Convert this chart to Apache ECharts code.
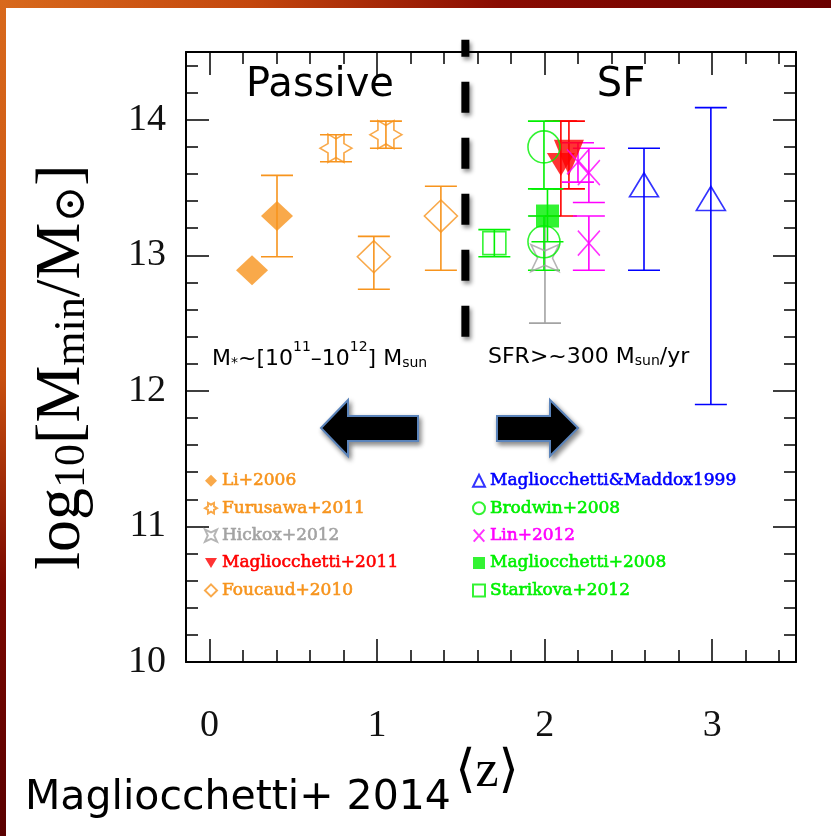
<!DOCTYPE html>
<html>
<head>
<meta charset="utf-8">
<script src="https://cdn.jsdelivr.net/npm/echarts@6/dist/echarts.min.js"></script>
<style>
html,body{margin:0;padding:0;background:#fff}
#chart{width:831px;height:836px}
</style>
</head>
<body>
<div id="chart"></div>
<script>
// ---- minimum halo mass vs. mean redshift, per sample (value, lower and upper bound) ----
const li2006_z  = [0.254, 0.403];
const li2006_m  = [12.89, 13.29];
const li2006_lo = [null, 12.99];
const li2006_hi = [null, 13.59];

const furusawa2011_z  = [0.755, 1.053];
const furusawa2011_m  = [13.79, 13.89];
const furusawa2011_lo = [13.69, 13.79];
const furusawa2011_hi = [13.89, 13.99];

const hickox2012_z  = [2.002];
const hickox2012_m  = [12.98];
const hickox2012_lo = [12.50];
const hickox2012_hi = [13.29];

const mag2011_z  = [2.097, 2.145];
const mag2011_m  = [13.67, 13.72];
const mag2011_lo = [13.29, 13.49];
const mag2011_hi = [13.99, 13.99];

const foucaud2010_z  = [0.981, 1.381];
const foucaud2010_m  = [12.99, 13.29];
const foucaud2010_lo = [12.75, 12.89];
const foucaud2010_hi = [13.14, 13.51];

const maddox1999_z  = [2.593, 2.992];
const maddox1999_m  = [13.52, 13.42];
const maddox1999_lo = [12.89, 11.90];
const maddox1999_hi = [13.79, 14.09];

const brodwin2008_z  = [1.996, 1.996];
const brodwin2008_m  = [13.80, 13.10];
const brodwin2008_lo = [13.49, 12.89];
const brodwin2008_hi = [13.99, 13.29];

const lin2012_z  = [2.199, 2.264, 2.264];
const lin2012_m  = [13.69, 13.61, 13.09];
const lin2012_lo = [13.54, 13.39, 12.89];
const lin2012_hi = [13.83, 13.79, 13.29];

const mag2008_z  = [2.017];
const mag2008_m  = [13.29];
const mag2008_lo = [13.10];
const mag2008_hi = [13.49];

const starikova2012_z  = [1.700];
const starikova2012_m  = [13.09];
const starikova2012_lo = [12.99];
const starikova2012_hi = [13.19];

// passive / star-forming divide
const divider_z = [1.527];
const divider_lo = [12.40];
const divider_hi = [14.59];

// ---- axis ticks ----
const xMajorTicks = [0, 1, 2, 3];
const xMinorTicks = [0, 0.2, 0.4, 0.6, 0.8, 1, 1.2, 1.4, 1.6, 1.8, 2, 2.2, 2.4, 2.6, 2.8, 3, 3.2, 3.4];
const yMajorTicks = [10, 11, 12, 13, 14];
const yMinorTicks = [10, 10.2, 10.4, 10.6, 10.8, 11, 11.2, 11.4, 11.6, 11.8, 12, 12.2, 12.4, 12.6, 12.8,
                     13, 13.2, 13.4, 13.6, 13.8, 14, 14.2, 14.4];

const ORANGE = '#f7941d', RED = '#ff0000', GRAY = '#a3a3a3', BLUE = '#0000ff',
      GREEN = '#00f000', MAGENTA = '#ff00ff';

function starPath(n, inner, phase) {
  let d = '';
  for (let k = 0; k < 2 * n; k++) {
    const r = k % 2 ? inner : 1;
    const a = phase + k * Math.PI / n;
    d += (k ? 'L' : 'M') + (50 + 50 * r * Math.cos(a)).toFixed(2) + ',' + (50 + 50 * r * Math.sin(a)).toFixed(2);
  }
  return 'path://' + d + 'Z';
}
const STAR6 = starPath(6, 0.577, 0);
const STAR4 = starPath(4, 0.38, Math.PI / 4);
const INV_TRI = 'path://M0,0L20,0L10,17Z';
const CROSS = 'path://M0,0L22,25M22,0L0,25';

const zip = (a, b) => a.map((v, i) => [v, b[i]]);
const errData = (z, lo, hi) => z.map((v, i) => [v, lo[i], hi[i]]).filter(d => d[1] != null);

function open(c) { return { color: 'rgba(255,255,255,0)', borderColor: c, borderWidth: 1.6 }; }

function errRender(params, api) {
  const x = api.value(0), lo = api.value(1), hi = api.value(2);
  const a = api.coord([x, lo]), b = api.coord([x, hi]);
  const hw = 16;
  const style = { stroke: api.visual('color'), lineWidth: 1.6 };
  return {
    type: 'group',
    children: [
      { type: 'line', shape: { x1: a[0], y1: a[1], x2: b[0], y2: b[1] }, style },
      { type: 'line', shape: { x1: a[0] - hw, y1: a[1], x2: a[0] + hw, y2: a[1] }, style },
      { type: 'line', shape: { x1: b[0] - hw, y1: b[1], x2: b[0] + hw, y2: b[1] }, style }
    ]
  };
}

function dividerRender(params, api) {
  const x = api.value(0);
  const a = api.coord([x, api.value(1)]), b = api.coord([x, api.value(2)]);
  return {
    type: 'line',
    shape: { x1: a[0], y1: a[1], x2: b[0], y2: b[1] },
    style: {
      stroke: '#000', lineWidth: 8, lineDash: [31, 25], lineCap: 'butt',
      shadowColor: 'rgba(0,0,0,0.45)', shadowBlur: 4, shadowOffsetX: 2, shadowOffsetY: 3
    }
  };
}

const samples = [
  { name: 'Li+2006', z: li2006_z, m: li2006_m, lo: li2006_lo, hi: li2006_hi, color: ORANGE,
    symbol: 'diamond', size: [32, 30], style: { color: ORANGE }, icon: 'diamond' },
  { name: 'Furusawa+2011', z: furusawa2011_z, m: furusawa2011_m, lo: furusawa2011_lo, hi: furusawa2011_hi, color: ORANGE,
    symbol: STAR6, size: [32, 28], style: open(ORANGE), icon: STAR6 },
  { name: 'Hickox+2012', z: hickox2012_z, m: hickox2012_m, lo: hickox2012_lo, hi: hickox2012_hi, color: GRAY,
    symbol: STAR4, size: [28, 27], style: open(GRAY), icon: STAR4 },
  { name: 'Magliocchetti+2011', z: mag2011_z, m: mag2011_m, lo: mag2011_lo, hi: mag2011_hi, color: RED,
    symbol: INV_TRI, size: [[28, 23], [30, 36]], style: { color: RED }, icon: INV_TRI },
  { name: 'Foucaud+2010', z: foucaud2010_z, m: foucaud2010_m, lo: foucaud2010_lo, hi: foucaud2010_hi, color: ORANGE,
    symbol: 'diamond', size: [33, 32], style: open(ORANGE), icon: 'diamond' },
  { name: 'Magliocchetti&Maddox1999', z: maddox1999_z, m: maddox1999_m, lo: maddox1999_lo, hi: maddox1999_hi, color: BLUE,
    symbol: 'triangle', size: [29, 24], style: open(BLUE), icon: 'triangle' },
  { name: 'Brodwin+2008', z: brodwin2008_z, m: brodwin2008_m, lo: brodwin2008_lo, hi: brodwin2008_hi, color: GREEN,
    symbol: 'circle', size: 32, style: open(GREEN), icon: 'circle' },
  { name: 'Lin+2012', z: lin2012_z, m: lin2012_m, lo: lin2012_lo, hi: lin2012_hi, color: MAGENTA,
    symbol: CROSS, size: [22, 25], style: open(MAGENTA), icon: CROSS },
  { name: 'Magliocchetti+2008', z: mag2008_z, m: mag2008_m, lo: mag2008_lo, hi: mag2008_hi, color: GREEN,
    symbol: 'rect', size: 23, style: { color: GREEN }, icon: 'rect' },
  { name: 'Starikova+2012', z: starikova2012_z, m: starikova2012_m, lo: starikova2012_lo, hi: starikova2012_hi, color: GREEN,
    symbol: 'rect', size: 23, style: open(GREEN), icon: 'rect' }
];

const series = [];
samples.forEach(s => {
  series.push({
    type: 'custom', renderItem: errRender, silent: true, z: 2,
    itemStyle: { color: s.color },
    encode: { x: 0, y: [1, 2] },
    data: errData(s.z, s.lo, s.hi)
  });
});
samples.forEach(s => {
  const sized = Array.isArray(s.size) && Array.isArray(s.size[0]);
  series.push({
    name: s.name, type: 'scatter', z: 3,
    symbol: s.symbol,
    symbolSize: sized ? (val, p) => s.size[p.dataIndex] : s.size,
    itemStyle: s.style,
    emphasis: { disabled: true },
    data: zip(s.z, s.m)
  });
});
series.push({
  type: 'custom', renderItem: dividerRender, silent: true, clip: false, z: 4,
  encode: { x: 0, y: [1, 2] },
  data: errData(divider_z, divider_lo, divider_hi)
});

const legendText = { fontFamily: "'DejaVu Serif', serif", fontSize: 17, lineHeight: 16 };
function legendItems(names) {
  return names.map(n => {
    const s = samples.find(q => q.name === n);
    return { name: n, icon: s.icon, textStyle: { color: s.color, textBorderColor: s.color, textBorderWidth: 0.6 } };
  });
}

const SERIF = "'Liberation Serif', 'DejaVu Serif', serif";
const SANS = "'DejaVu Sans', sans-serif";

function axisPair(kind, position, major, minor, withLabels) {
  const base = kind === 'x' ? { min: -0.14, max: 3.5 } : { min: 10, max: 14.5 };
  const common = Object.assign({ type: 'value', position, splitLine: { show: false } }, base);
  const majorAxis = Object.assign({}, common, {
    axisLine: { show: true, onZero: false, lineStyle: { color: '#000', width: 2 } },
    axisTick: { show: true, inside: true, length: 23, customValues: major, lineStyle: { color: '#000', width: 1.5 } },
    axisLabel: withLabels ? {
      show: true, customValues: major, margin: kind === 'x' ? 45 : 20,
      fontFamily: SERIF, fontSize: 38, color: '#111'
    } : { show: false }
  });
  const minorAxis = Object.assign({}, common, {
    axisLine: { show: false, onZero: false },
    axisTick: { show: true, inside: true, length: 12, customValues: minor, lineStyle: { color: '#000', width: 1.5 } },
    axisLabel: { show: false }
  });
  return [majorAxis, minorAxis];
}

const option = {
  animation: false,
  backgroundColor: '#ffffff',
  grid: { left: 186, right: 35, top: 52, bottom: 174, containLabel: false },
  xAxis: [
    ...axisPair('x', 'bottom', xMajorTicks, xMinorTicks, true),
    ...axisPair('x', 'top', xMajorTicks, xMinorTicks, false)
  ],
  yAxis: [
    ...axisPair('y', 'left', yMajorTicks, yMinorTicks, true),
    ...axisPair('y', 'right', yMajorTicks, yMinorTicks, false)
  ],
  legend: [
    {
      orient: 'vertical', left: 204, top: 472, padding: 0, itemGap: 9.8,
      itemWidth: 12, itemHeight: 12, selectedMode: false, textStyle: legendText,
      data: legendItems(['Li+2006', 'Furusawa+2011', 'Hickox+2012', 'Magliocchetti+2011', 'Foucaud+2010'])
    },
    {
      orient: 'vertical', left: 472, top: 472, padding: 0, itemGap: 9.8,
      itemWidth: 12, itemHeight: 12, selectedMode: false, textStyle: legendText,
      data: legendItems(['Magliocchetti&Maddox1999', 'Brodwin+2008', 'Lin+2012', 'Magliocchetti+2008', 'Starikova+2012'])
    }
  ],
  series,
  graphic: [
    // slide frame
    { type: 'rect', z: 100, shape: { x: 0, y: 0, width: 831, height: 8 },
      style: { fill: new echarts.graphic.LinearGradient(0, 0, 1, 0, [
        { offset: 0, color: '#d8691c' }, { offset: 0.3, color: '#c4470d' },
        { offset: 0.6, color: '#8a0c02' }, { offset: 1, color: '#6a0000' }]) } },
    { type: 'rect', z: 100, shape: { x: 0, y: 0, width: 6, height: 836 },
      style: { fill: new echarts.graphic.LinearGradient(0, 0, 0, 1, [
        { offset: 0, color: '#d8691c' }, { offset: 0.45, color: '#c8500f' },
        { offset: 0.7, color: '#7a0800' }, { offset: 1, color: '#5a0000' }]) } },
    // region headings
    { type: 'text', z: 50, x: 320, y: 86, style: { text: 'Passive', font: "40px 'DejaVu Sans'", fill: '#000', align: 'center', verticalAlign: 'middle' } },
    { type: 'text', z: 50, x: 621, y: 86, style: { text: 'SF', font: "40px 'DejaVu Sans'", fill: '#000', align: 'center', verticalAlign: 'middle' } },
    { type: 'text', z: 50, x: 212, y: 355, style: {
        text: '{n|M}{sb|*}{n|~[10}{sp|11}{n|–10}{sp|12}{n|] M}{sb|sun}',
        align: 'left', verticalAlign: 'middle', fill: '#000',
        rich: {
          n: { fontFamily: SANS, fontSize: 22, lineHeight: 26, verticalAlign: 'bottom' },
          sp: { fontFamily: SANS, fontSize: 14, lineHeight: 30, verticalAlign: 'top' },
          sb: { fontFamily: SANS, fontSize: 14, lineHeight: 6, verticalAlign: 'bottom' }
        } } },
    { type: 'text', z: 50, x: 488, y: 355, style: {
        text: '{n|SFR>~300 M}{sb|sun}{n|/yr}',
        align: 'left', verticalAlign: 'middle', fill: '#000',
        rich: {
          n: { fontFamily: SANS, fontSize: 22, lineHeight: 26, verticalAlign: 'bottom' },
          sb: { fontFamily: SANS, fontSize: 14, lineHeight: 6, verticalAlign: 'bottom' }
        } } },
    // direction arrows
    { type: 'polygon', z: 50, shape: { points: [[321, 428], [348, 400], [348, 416], [418, 416], [418, 441], [348, 441], [348, 456]] },
      style: { fill: '#000', stroke: '#5b84bb', lineWidth: 2, shadowColor: 'rgba(0,0,0,0.45)', shadowBlur: 5, shadowOffsetX: 2, shadowOffsetY: 3 } },
    { type: 'polygon', z: 50, shape: { points: [[497, 416], [550, 416], [550, 400], [578, 428], [550, 456], [550, 441], [497, 441]] },
      style: { fill: '#000', stroke: '#5b84bb', lineWidth: 2, shadowColor: 'rgba(0,0,0,0.45)', shadowBlur: 5, shadowOffsetX: 2, shadowOffsetY: 3 } },
    // axis titles
    { type: 'text', z: 50, x: 60, y: 367, rotation: Math.PI / 2, style: {
        text: '{n|log}{s|10}{n|[M}{s|min}{n|/M}{s|⊙}{n|]}',
        align: 'center', verticalAlign: 'middle', fill: '#000',
        rich: {
          n: { fontFamily: SERIF, fontSize: 64, lineHeight: 68, verticalAlign: 'bottom' },
          s: { fontFamily: SERIF, fontSize: 44, lineHeight: 24, verticalAlign: 'bottom' }
        } } },
    { type: 'text', z: 50, x: 487, y: 772, style: { text: '⟨z⟩', font: "52px 'Liberation Serif', 'DejaVu Serif'", fill: '#000', align: 'center', verticalAlign: 'middle' } },
    { type: 'text', z: 50, x: 25, y: 798, style: { text: 'Magliocchetti+ 2014', font: "41px 'DejaVu Sans'", fill: '#000', align: 'left', verticalAlign: 'middle' } }
  ]
};

const chart = echarts.init(document.getElementById('chart'), null, { renderer: 'canvas' });
chart.setOption(option);
</script>
</body>
</html>
